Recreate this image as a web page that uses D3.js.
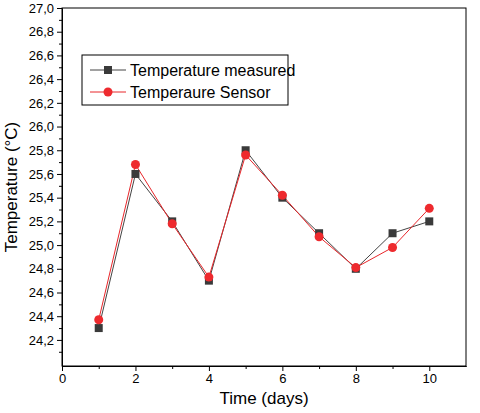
<!DOCTYPE html>
<html><head><meta charset="utf-8">
<script src="https://cdn.jsdelivr.net/npm/d3@7"></script>
<style>body{margin:0;background:#fff}text{font-family:Arial,"Liberation Sans",sans-serif}</style>
</head><body><svg id="graph" width="480" height="413"></svg>
<script>
var days = [1,2,3,4,5,6,7,8,9,10];
var measured = [24.3,25.6,25.2,24.7,25.8,25.4,25.1,24.8,25.1,25.2];
var sensor = [24.37,25.68,25.18,24.73,25.76,25.42,25.07,24.81,24.98,25.31];
var xTicks = [0,2,4,6,8,10];
var yTicks = d3.range(24.2,27.01,0.2);

var margin = {top: 8, right: 14, bottom: 47, left: 62};
var width = 480 - margin.left - margin.right;
var height = 413 - margin.top - margin.bottom;
var svg = d3.select('#graph');
var g = svg.append('g').attr('transform','translate('+margin.left+','+margin.top+')');
var x = d3.scaleLinear().domain([0,11]).range([0,width]);
var y = d3.scaleLinear().domain([23.98,27.0]).range([height,0]);
var fmt = function(d){ return d3.format('.1f')(d).replace('.',','); };

g.append('g').attr('transform','translate(0,'+height+')')
  .call(d3.axisBottom(x).tickValues(xTicks).tickSize(5).tickSizeOuter(0));
g.append('g').attr('transform','translate(0,'+height+')')
  .call(d3.axisBottom(x).tickValues(d3.range(1,11,2)).tickSize(3).tickFormat('').tickSizeOuter(0));
g.append('g').call(d3.axisLeft(y).tickValues(yTicks).tickFormat(fmt).tickSize(5).tickSizeOuter(0));
g.append('g').call(d3.axisLeft(y).tickValues(d3.range(24.1,27,0.2)).tickFormat('').tickSize(3).tickSizeOuter(0));
g.selectAll('.tick text').attr('font-size',13).attr('fill','#000');
g.append('rect').attr('width',width).attr('height',height).attr('fill','none').attr('stroke','#000');

var line = d3.line().x(function(d,i){return x(days[i]);}).y(function(d){return y(d);});
g.append('path').datum(measured).attr('d',line).attr('fill','none').attr('stroke','#444').attr('stroke-width',1);
g.append('path').datum(sensor).attr('d',line).attr('fill','none').attr('stroke','#e8262a').attr('stroke-width',1);
g.selectAll('.sq').data(measured).enter().append('rect')
  .attr('x',function(d,i){return x(days[i])-4;}).attr('y',function(d){return y(d)-4;})
  .attr('width',8).attr('height',8).attr('fill','#3a3a3a');
g.selectAll('.ci').data(sensor).enter().append('circle')
  .attr('cx',function(d,i){return x(days[i]);}).attr('cy',function(d){return y(d);})
  .attr('r',4.5).attr('fill','#ee2a2e');

var lg = svg.append('g').attr('transform','translate(82,55)');
lg.append('rect').attr('width',206).attr('height',50).attr('fill','#fff').attr('stroke','#000');
lg.append('line').attr('x1',8).attr('x2',44).attr('y1',15).attr('y2',15).attr('stroke','#444');
lg.append('rect').attr('x',22).attr('y',11).attr('width',8).attr('height',8).attr('fill','#3a3a3a');
lg.append('text').attr('x',48).attr('y',21).attr('font-size',16).text('Temperature measured');
lg.append('line').attr('x1',8).attr('x2',44).attr('y1',37).attr('y2',37).attr('stroke','#e8262a');
lg.append('circle').attr('cx',26).attr('cy',37).attr('r',4.5).attr('fill','#ee2a2e');
lg.append('text').attr('x',48).attr('y',43).attr('font-size',16).text('Temperaure Sensor');

svg.append('text').attr('x',margin.left+width/2).attr('y',404).attr('text-anchor','middle').attr('font-size',17).text('Time (days)');
svg.append('text').attr('transform','translate(17,'+(margin.top+height/2)+') rotate(-90)')
  .attr('text-anchor','middle').attr('font-size',17).text('Temperature (°C)');
</script></body></html>
